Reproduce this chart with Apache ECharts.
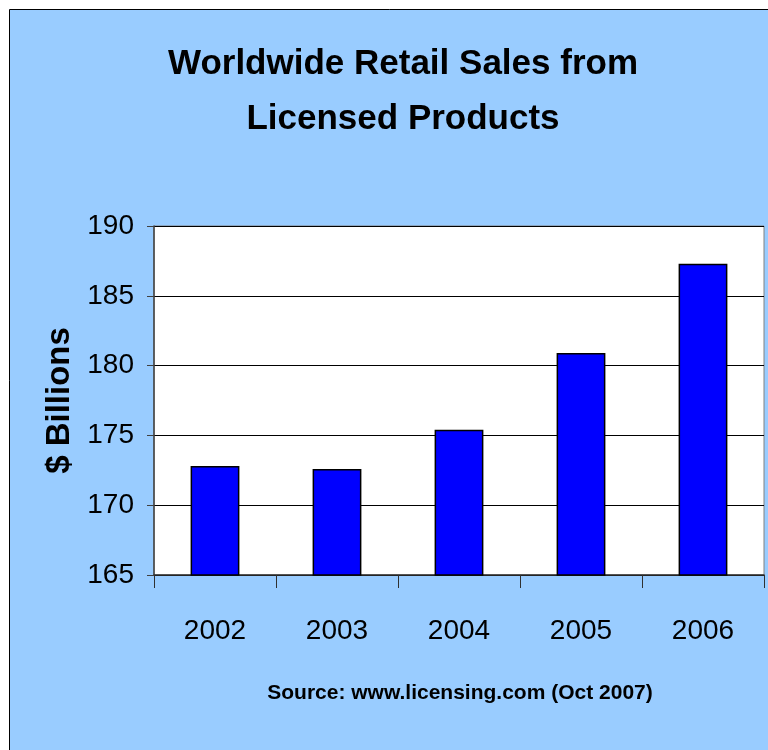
<!DOCTYPE html>
<html>
<head>
<meta charset="utf-8">
<script src="https://cdn.jsdelivr.net/npm/echarts@6/dist/echarts.min.js"></script>
<style>
  html, body { margin: 0; padding: 0; background: #ffffff; }
  #chart { width: 768px; height: 750px; }
</style>
</head>
<body>
<div id="chart"></div>
<script>
const categories = ['2002', '2003', '2004', '2005', '2006'];
const salesValues = [172.8, 172.6, 175.4, 180.9, 187.3];
const yTicks = [165, 170, 175, 180, 185, 190];

const sans = "'Liberation Sans', Arial, Helvetica, sans-serif";

const chart = echarts.init(document.getElementById('chart'), null, { renderer: 'canvas' });
chart.setOption({
  backgroundColor: '#ffffff',
  animation: false,
  graphic: [{
    type: 'rect',
    z: -10,
    silent: true,
    shape: { x: 9.5, y: 9.5, width: 800, height: 800 },
    style: { fill: '#99CCFF', stroke: '#000000', lineWidth: 1 }
  }],
  title: [{
    text: 'Worldwide Retail Sales from\nLicensed Products',
    left: 398,
    top: 32,
    textAlign: 'center',
    textStyle: {
      fontFamily: sans,
      fontWeight: 'bold',
      fontSize: 35,
      lineHeight: 55,
      color: '#000000'
    }
  }, {
    text: 'Source: www.licensing.com (Oct 2007)',
    left: 455,
    top: 678,
    textAlign: 'center',
    textStyle: {
      fontFamily: sans,
      fontWeight: 'bold',
      fontSize: 21,
      color: '#000000'
    }
  }],
  grid: {
    left: 154,
    top: 226,
    right: 4,
    bottom: 175,
    show: true,
    backgroundColor: '#ffffff',
    borderColor: '#808080',
    borderWidth: 1
  },
  xAxis: {
    type: 'category',
    data: categories,
    axisLine: { show: true, lineStyle: { color: '#303030', width: 1.5 } },
    axisTick: { show: true, length: 13, inside: false, lineStyle: { color: '#303030' } },
    axisLabel: {
      margin: 42,
      fontFamily: sans,
      fontSize: 28,
      color: '#000000'
    }
  },
  yAxis: {
    type: 'value',
    min: yTicks[0],
    max: yTicks[yTicks.length - 1],
    interval: 5,
    name: '$ Billions',
    nameLocation: 'middle',
    nameRotate: 90,
    nameGap: 70,
    nameTextStyle: {
      fontFamily: sans,
      fontWeight: 'bold',
      fontSize: 33,
      color: '#000000'
    },
    axisLine: { show: true, lineStyle: { color: '#404040', width: 1.5 } },
    axisTick: { show: true, length: 7, inside: false, lineStyle: { color: '#404040' } },
    axisLabel: {
      margin: 20,
      fontFamily: sans,
      fontSize: 28,
      color: '#000000'
    },
    splitLine: { show: true, lineStyle: { color: '#000000', width: 1 } }
  },
  series: [{
    type: 'bar',
    data: salesValues,
    barWidth: '40%',
    itemStyle: { color: '#0000FF', borderColor: '#000000', borderWidth: 1.5 }
  }]
});
</script>
</body>
</html>
